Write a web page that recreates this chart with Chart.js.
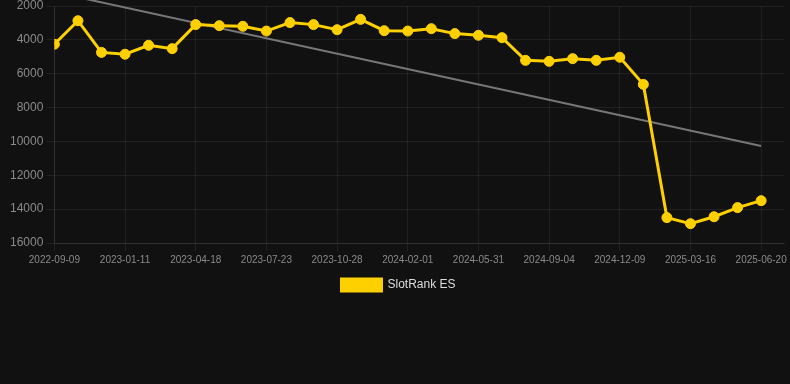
<!DOCTYPE html>
<html>
<head>
<meta charset="utf-8">
<script src="https://cdn.jsdelivr.net/npm/chart.js@4/dist/chart.umd.min.js"></script>
<style>
  html, body { margin: 0; padding: 0; background: #111111; }
  #wrap { position: relative; width: 790px; height: 301px; }
</style>
</head>
<body>
<div id="wrap"><canvas id="c"></canvas></div>
<script>
const dates = [
  '2022-09-09','2022-10-20','2022-11-30','2023-01-11','2023-02-12','2023-03-16',
  '2023-04-18','2023-05-20','2023-06-21','2023-07-23','2023-08-24','2023-09-26',
  '2023-10-28','2023-11-29','2024-01-01','2024-02-01','2024-03-11','2024-04-21',
  '2024-05-31','2024-07-02','2024-08-03','2024-09-04','2024-10-06','2024-11-07',
  '2024-12-09','2025-01-10','2025-02-12','2025-03-16','2025-04-17','2025-05-19',
  '2025-06-20'
];
const slotRankES = [
  4260, 2870, 4740, 4850, 4320, 4520,
  3100, 3160, 3200, 3480, 2980, 3100,
  3400, 2790, 3460, 3480, 3340, 3630,
  3730, 3870, 5210, 5270, 5110, 5210,
  5030, 6630, 14500, 14860, 14450, 13910,
  13500
];
const trendStart = 1180;
const trendEnd = 10270;
const yTicks = [2000, 4000, 6000, 8000, 10000, 12000, 14000, 16000];

const gridColor = 'rgba(255,255,255,0.07)';

new Chart(document.getElementById('c'), {
  type: 'line',
  data: {
    datasets: [
      {
        label: 'SlotRank ES',
        data: slotRankES.map((v, i) => ({ x: i, y: v })),
        borderColor: '#FFD000',
        backgroundColor: '#FFD000',
        borderWidth: 3,
        pointRadius: 5,
        pointBorderWidth: 1,
        pointBackgroundColor: '#FFD000',
        pointBorderColor: '#FFD000',
        tension: 0,
        order: 1
      },
      {
        label: 'trend',
        data: [{ x: 0, y: trendStart }, { x: dates.length - 1, y: trendEnd }],
        borderColor: '#777777',
        borderWidth: 2,
        pointRadius: 0,
        clip: false,
        order: 2
      }
    ]
  },
  options: {
    animation: false,
    responsive: true,
    maintainAspectRatio: false,
    layout: { padding: { left: 7, right: 0, top: 0, bottom: 0 } },
    plugins: {
      legend: {
        position: 'bottom',
        labels: {
          color: '#dddddd',
          font: { family: 'Liberation Sans, Arial, sans-serif', size: 12 },
          boxWidth: 40,
          filter: (item) => item.text !== 'trend'
        }
      },
      tooltip: { enabled: false }
    },
    scales: {
      x: {
        type: 'linear',
        min: 0,
        max: 30.97,
        ticks: {
          stepSize: 3,
          includeBounds: false,
          autoSkip: false,
          maxRotation: 0,
          color: '#8a8a8a',
          font: { family: 'Liberation Sans, Arial, sans-serif', size: 10 },
          callback: (v) => dates[v] !== undefined ? dates[v] : ''
        },
        grid: { color: gridColor, tickColor: gridColor },
        border: { color: gridColor }
      },
      y: {
        reverse: true,
        min: yTicks[0],
        max: yTicks[yTicks.length - 1],
        afterBuildTicks: (s) => { s.ticks = yTicks.map(v => ({ value: v })); },
        ticks: {
          color: '#8a8a8a',
          font: { family: 'Liberation Sans, Arial, sans-serif', size: 12, lineHeight: 0.5 },
          callback: (v) => String(v)
        },
        grid: { color: gridColor, tickColor: gridColor },
        border: { color: gridColor }
      }
    }
  }
});
</script>
</body>
</html>
